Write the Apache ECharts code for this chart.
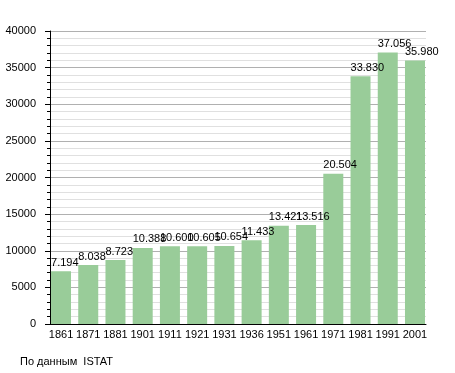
<!DOCTYPE html>
<html><head><meta charset="utf-8">
<script src="https://cdn.jsdelivr.net/npm/echarts@6/dist/echarts.min.js"></script>
<style>html,body{margin:0;padding:0;background:#fff}#c{width:455px;height:373px}</style>
</head><body><div id="c"></div>
<script>
const categories = ['1861','1871','1881','1901','1911','1921','1931','1936','1951','1961','1971','1981','1991','2001'];
const population = [7194, 8038, 8723, 10388, 10600, 10605, 10654, 11433, 13421, 13516, 20504, 33830, 37056, 35980];
const yTicks = [0, 5000, 10000, 15000, 20000, 25000, 30000, 35000, 40000];
const sourceText = 'По данным  ISTAT';

const chart = echarts.init(document.getElementById('c'), null, {renderer:'canvas'});
const font = 'Liberation Sans, Arial, sans-serif';
const yMin = yTicks[0], yMax = yTicks[yTicks.length-1];
chart.setOption({
  animation:false,
  textStyle:{fontFamily:font},
  grid:[
    {left:50, right:29, top:31, bottom:49, containLabel:false},
    {left:47.4, right:26.4, top:31, bottom:49, containLabel:false}
  ],
  graphic:[{type:'text', left:20, top:356, style:{text:sourceText, font:'11px '+font, fill:'#000'}}],
  xAxis:[
    {type:'category', gridIndex:0, data:categories,
      axisLine:{lineStyle:{color:'#000', width:1}},
      axisTick:{show:false}, axisLabel:{show:false}},
    {type:'category', gridIndex:1, data:categories,
      axisLine:{show:false}, axisTick:{show:false},
      axisLabel:{color:'#000', fontSize:11, margin:5, interval:0}}
  ],
  yAxis:[
    {type:'value', gridIndex:0, min:yMin, max:yMax, interval:5000,
      axisLine:{show:true, lineStyle:{color:'#000'}},
      axisTick:{show:true, length:5, lineStyle:{color:'#000'}},
      minorTick:{show:true, splitNumber:5, length:3, lineStyle:{color:'#000'}},
      splitLine:{lineStyle:{color:'#b0b0b0'}},
      minorSplitLine:{show:true, lineStyle:{color:'#e0e0e0'}},
      axisLabel:{color:'#000', fontSize:11, margin:14, formatter:v=>String(v)}},
    {type:'value', gridIndex:1, min:yMin, max:yMax, interval:5000, show:false}
  ],
  series:[{type:'bar', xAxisIndex:1, yAxisIndex:1, data:population, barWidth:20, itemStyle:{color:'#99cc99'},
    label:{show:true, position:'top', align:'left', offset:[-10,0], distance:3, color:'#000', fontSize:11,
      formatter:p=>String(p.value).replace(/\B(?=(\d{3})+(?!\d))/g,'.')}}]
});
</script></body></html>
